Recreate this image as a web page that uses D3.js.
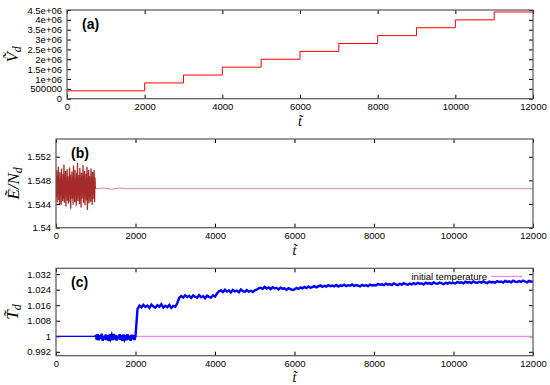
<!DOCTYPE html>
<html><head><meta charset="utf-8">
<script src="https://cdn.jsdelivr.net/npm/d3@7"></script>
<style>body{margin:0;background:#fff}svg{display:block}</style>
</head><body><svg id="chart" width="550" height="385"></svg>
<script>
// ---------------- data ----------------
const xTicks = [0, 2000, 4000, 6000, 8000, 10000, 12000];

// (a) volume step function
const volTimes  = [0, 2000, 3000, 4000, 5000, 6000, 7000, 8000, 9000, 10000, 11000, 12000];
const volValues = [400000, 800000, 1200000, 1600000, 2000000, 2400000, 2800000, 3200000, 3600000, 4000000, 4400000, 4400000];
const volTicks = [0, 500000, 1000000, 1500000, 2000000, 2500000, 3000000, 3500000, 4000000, 4500000];
const volTickLabels = ["0", "500000", "1e+06", "1.5e+06", "2e+06", "2.5e+06", "3e+06", "3.5e+06", "4e+06", "4.5e+06"];

// (b) energy per particle: fluctuating part (t = 0..990, every 10) then settled
const energyNoisyStep = 10;
const energyNoisy = [
1.5482,1.5451,1.5497,1.5443,1.5488,1.5458,1.5503,1.5447,1.5479,1.5440,1.5494,1.5462,1.5485,1.5438,1.5500,1.5455,1.5476,1.5445,1.5491,1.5450,
1.5507,1.5442,1.5484,1.5459,1.5496,1.5436,1.5480,1.5453,1.5499,1.5446,1.5487,1.5441,1.5474,1.5457,1.5502,1.5444,1.5490,1.5432,1.5481,1.5460,
1.5495,1.5448,1.5486,1.5439,1.5505,1.5452,1.5478,1.5443,1.5498,1.5456,1.5483,1.5437,1.5492,1.5450,1.5510,1.5445,1.5477,1.5461,1.5489,1.5440,
1.5501,1.5454,1.5485,1.5434,1.5493,1.5449,1.5480,1.5458,1.5506,1.5442,1.5487,1.5451,1.5496,1.5438,1.5479,1.5463,1.5491,1.5446,1.5503,1.5430,
1.5484,1.5455,1.5498,1.5441,1.5488,1.5452,1.5476,1.5444,1.5500,1.5457,1.5486,1.5439,1.5494,1.5448,1.5481,1.5459,1.5497,1.5443,1.5485,1.5466];
const energyFlatTimes = [1000, 1200, 1400, 1600, 1800, 12000];
const energyFlat      = [1.5466, 1.5467, 1.5465, 1.5467, 1.5466, 1.5466];
const energyTicks = [1.54, 1.544, 1.548, 1.552];
const energyTickLabels = ["1.54", "1.544", "1.548", "1.552"];

// (c) temperature
const tempStartTimes = [0, 1000];
const tempStart      = [1.0000, 1.0000];
const tempNoisyStep = 25;  // t = 1000..1975
const tempNoisy = [
1.0008,0.9982,1.0011,0.9979,1.0005,0.9986,1.0013,0.9977,1.0002,0.9984,1.0009,0.9981,1.0006,0.9975,1.0010,0.9988,1.0004,0.9980,1.0012,0.9983,
1.0007,0.9978,1.0003,0.9985,1.0010,0.9982,1.0006,0.9976,1.0009,0.9987,1.0005,0.9979,1.0011,0.9984,1.0003,0.9977,1.0008,0.9983,1.0006,0.9981];
const tempLateStep = 50;   // t = 2000..12000
const tempLate = [
1.0000,1.0140,1.0158,
1.0149,1.0162,1.0151,1.0158,1.0146,1.0163,1.0153,1.0147,1.0160,1.0152,1.0165,1.0148,1.0157,1.0150,1.0161,1.0146,1.0156,1.0152,
1.0170,1.0198,1.0207,
1.0199,1.0211,1.0202,1.0208,1.0197,1.0210,1.0203,1.0198,1.0212,1.0201,1.0206,1.0196,1.0209,1.0203,1.0199,1.0211,1.0204,
1.0220,1.0232,1.0236,
1.0228,1.0240,1.0230,1.0236,1.0226,1.0239,1.0231,1.0235,1.0227,1.0241,1.0232,1.0229,1.0238,1.0230,1.0234,1.0228,1.0237,
1.0240,1.0247,1.0250,
1.0244,1.0254,1.0246,1.0251,1.0243,1.0253,1.0247,1.0249,1.0241,1.0250,1.0245,1.0247,1.0240,1.0248,1.0243,1.0238,1.0241,
1.0249,1.0243,1.0252,1.0247,1.0254,1.0248,1.0256,1.0250,1.0253,1.0258,1.0252,1.0257,1.0262,1.0255,1.0260,1.0256,1.0263,1.0258,1.0261,1.0257,
1.0264,1.0256,1.0262,1.0259,1.0266,1.0258,1.0263,1.0260,1.0267,1.0259,1.0264,1.0261,1.0257,1.0265,1.0260,1.0263,1.0258,1.0266,1.0261,1.0264,
1.0262,1.0270,1.0265,1.0268,1.0263,1.0271,1.0266,1.0269,1.0264,1.0272,1.0267,1.0263,1.0270,1.0266,1.0273,1.0268,1.0265,1.0271,1.0267,1.0274,
1.0268,1.0275,1.0270,1.0273,1.0267,1.0276,1.0271,1.0274,1.0269,1.0277,1.0272,1.0270,1.0276,1.0273,1.0268,1.0275,1.0271,1.0277,1.0273,1.0275,
1.0272,1.0280,1.0275,1.0278,1.0273,1.0281,1.0276,1.0279,1.0274,1.0282,1.0277,1.0275,1.0280,1.0276,1.0283,1.0278,1.0274,1.0281,1.0277,1.0279,
1.0276,1.0284,1.0279,1.0282,1.0277,1.0285,1.0280,1.0283,1.0278,1.0286,1.0281,1.0279,1.0284,1.0280,1.0287,1.0282,1.0278,1.0285,1.0281,1.0283];
const initialTemperature = 1.0;
const tempTicks = [0.992, 1, 1.008, 1.016, 1.024, 1.032];
const tempTickLabels = ["0.992", "1", "1.008", "1.016", "1.024", "1.032"];

// ---------------- drawing ----------------
const svg = d3.select("#chart");
const SANS = "'Liberation Sans', Arial, Helvetica, sans-serif";
const SERIF = "'Liberation Serif', 'DejaVu Serif', serif";

function panel(opt) {
  const x = d3.scaleLinear().domain([0, 12000]).range([opt.left, 533]);
  const y = d3.scaleLinear().domain(opt.yDomain).range([opt.bottom, opt.top]);
  const g = svg.append("g");
  const id = "clip" + opt.name;
  svg.append("clipPath").attr("id", id).append("rect")
    .attr("x", opt.left).attr("y", opt.top).attr("width", 533 - opt.left).attr("height", opt.bottom - opt.top);

  const tl = 4;
  const style = sel => { sel.select(".domain").remove(); sel.selectAll("line").attr("stroke", "#000"); sel.selectAll("text").attr("font-family", SANS).attr("font-size", 9.5).attr("fill", "#000"); };
  g.append("g").attr("transform", `translate(0,${opt.bottom})`)
    .call(d3.axisBottom(x).tickValues(xTicks).tickSize(-tl).tickPadding(5).tickFormat(d3.format("d"))).call(style);
  g.append("g").attr("transform", `translate(0,${opt.top})`)
    .call(d3.axisTop(x).tickValues(xTicks).tickSize(-tl).tickFormat("")).call(style);
  g.append("g").attr("transform", `translate(${opt.left},0)`)
    .call(d3.axisLeft(y).tickValues(opt.yTicks).tickSize(-tl).tickPadding(5).tickFormat((d, i) => opt.yLabels[i])).call(style);
  g.append("g").attr("transform", `translate(533,0)`)
    .call(d3.axisRight(y).tickValues(opt.yTicks).tickSize(-tl).tickFormat("")).call(style);

  const plot = g.append("g").attr("clip-path", `url(#${id})`);
  opt.draw(plot, x, y);

  g.append("rect").attr("x", opt.left).attr("y", opt.top)
    .attr("width", 533 - opt.left).attr("height", opt.bottom - opt.top)
    .attr("fill", "none").attr("stroke", "#555").attr("stroke-width", 1.2);

  g.append("text").attr("x", opt.left + 15).attr("y", opt.top + 19)
    .attr("font-family", SANS).attr("font-weight", "bold").attr("font-size", 14).text(opt.tag);

  // x title
  g.append("text").attr("x", (opt.left + 533) / 2).attr("y", opt.bottom + opt.xTitleDy)
    .attr("text-anchor", "middle").attr("font-family", SERIF).attr("font-style", "italic").attr("font-size", 14)
    .text("t\u0303");
  // y title
  const yt = g.append("text").attr("transform", `translate(${opt.yTitleX},${(opt.top + opt.bottom) / 2}) rotate(-90)`)
    .attr("text-anchor", "middle").attr("font-family", SERIF).attr("font-style", "italic").attr("font-size", 17);
  yt.append("tspan").text(opt.yTitle);
  yt.append("tspan").attr("font-size", 12).attr("dy", 3).text("d");
  return {x, y, g};
}

panel({
  name: "a", tag: "(a)", left: 67, top: 10, bottom: 98.7, yDomain: [0, 4500000], xTitleDy: 27,
  yTicks: volTicks, yLabels: volTickLabels, yTitle: "\u1E7C", yTitleX: 18,
  draw: (p, x, y) => {
    const line = d3.line().curve(d3.curveStepAfter).x((d, i) => x(volTimes[i])).y(d => y(d));
    p.append("path").attr("d", line(volValues)).attr("fill", "none").attr("stroke", "#ff0000").attr("stroke-width", 1);
  }
});

panel({
  name: "b", tag: "(b)", left: 56, top: 139, bottom: 227.7, yDomain: [1.54, 1.555], xTitleDy: 27,
  yTicks: energyTicks, yLabels: energyTickLabels, yTitle: "\u1EBC/N", yTitleX: 19,
  draw: (p, x, y) => {
    const line = d3.line().x(d => x(d[0])).y(d => y(d[1]));
    const noisy = energyNoisy.map((v, i) => [i * energyNoisyStep, v]);
    p.append("path").attr("d", line(noisy)).attr("fill", "none").attr("stroke", "#a52a2a").attr("stroke-width", 1.3);
    const flat = energyFlat.map((v, i) => [energyFlatTimes[i], v]);
    p.append("path").attr("d", line(flat)).attr("fill", "none").attr("stroke", "#b04040").attr("stroke-width", 0.6);
  }
});

panel({
  name: "c", tag: "(c)", left: 56, top: 268.3, bottom: 355.7, yDomain: [0.99, 1.035], xTitleDy: 26,
  yTicks: tempTicks, yLabels: tempTickLabels, yTitle: "T\u0303", yTitleX: 18,
  draw: (p, x, y) => {
    const line = d3.line().x(d => x(d[0])).y(d => y(d[1]));
    p.append("path").attr("d", line([[0, initialTemperature], [12000, initialTemperature]]))
      .attr("fill", "none").attr("stroke", "#ff80ff").attr("stroke-width", 1.2);
    const start = tempStart.map((v, i) => [tempStartTimes[i], v]);
    p.append("path").attr("d", line(start)).attr("fill", "none").attr("stroke", "#0000ff").attr("stroke-width", 1.2);
    const pts = [start[1]]
      .concat(tempNoisy.map((v, i) => [1000 + i * tempNoisyStep, v]))
      .concat(tempLate.map((v, i) => [2000 + i * tempLateStep, v]));
    p.append("path").attr("d", line(pts)).attr("fill", "none").attr("stroke", "#0000ff").attr("stroke-width", 2.4);
  }
});

// legend for (c)
svg.append("text").attr("x", 487).attr("y", 280).attr("text-anchor", "end")
  .attr("font-family", SANS).attr("font-size", 9.5).text("initial temperature");
svg.append("line").attr("x1", 491).attr("x2", 522).attr("y1", 276.5).attr("y2", 276.5)
  .attr("stroke", "#ff80ff").attr("stroke-width", 1.2);
</script></body></html>
